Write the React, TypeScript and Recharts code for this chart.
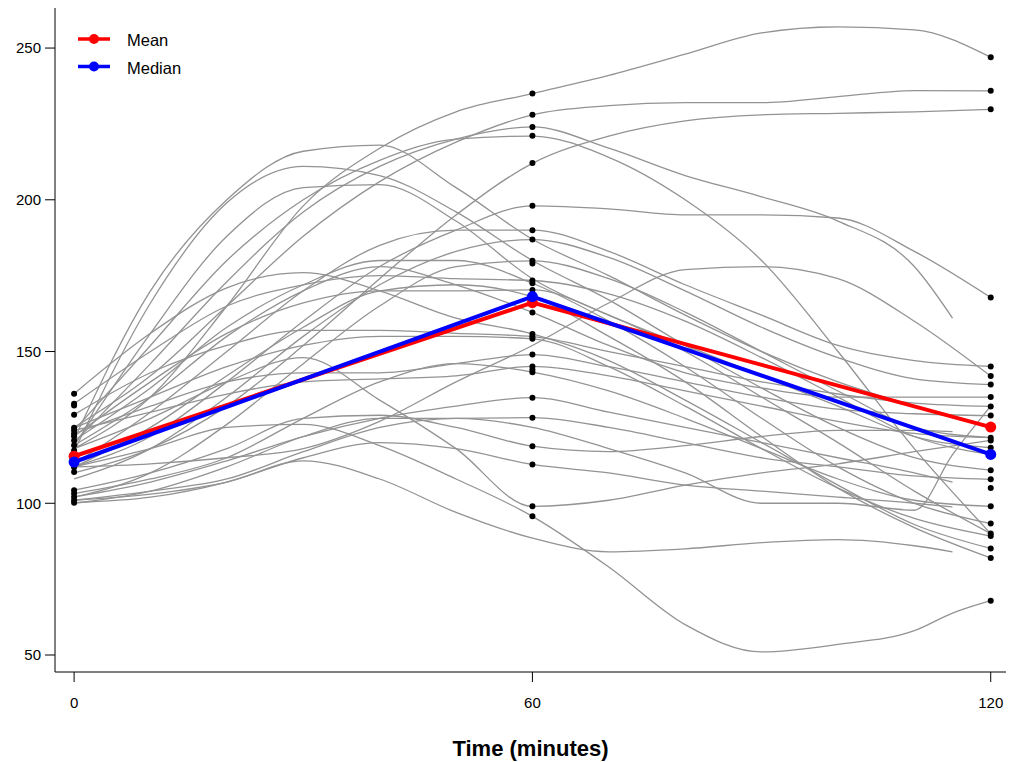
import React from 'react';
import {
  ComposedChart,
  Line,
  Scatter,
  XAxis,
  YAxis,
  Legend,
} from 'recharts';

// sampling times (minutes) of the smoothed individual curves
const times = [0, 10, 20, 30, 40, 50, 60, 70, 80, 90, 100, 110, 115, 120];
const N = null;

// one row per subject, values at the times above (null = not drawn there)
const subjects: (number | null)[][] = [
  [118, 135, 165, 198, 217, 229, 235, 241, 248, 255, 257, 256, N, 247],
  [125, 142, 165, 188, 206, 219, 228, 231, 232, 232, 234, 236, N, 235.9],
  [110, 118, 132, 152, 174, 195, 212, 221, 226, 228, 228.5, 229, N, 229.8],
  [120, 146, 173, 196, 211, 220, 224, 217, 208, 201, 193, 178, 161, N],
  [124, 152, 180, 200, 213, 220, 221, 214, 200, 180, 150, 118, N, 90],
  [112, 122, 140, 160, 178, 190, 198, 197, 195, 195, 194, 183, N, 167.8],
  [121, 170, 200, 216, 218, 204, 187, 175, 162, 150, 140, 132, N, 125],
  [117, 166, 199, 211, 208, 196, 180, 167, 152, 138, 125, 115, N, 110.9],
  [119, 156, 188, 204, 205, 193, 174, 162, 152, 142, 132, 122, N, 118.3],
  [113, 130, 150, 170, 185, 190, 190, 183, 172, 162, 152, 147, N, 145.1],
  [108, 118, 135, 155, 172, 183, 186.9, 181, 170, 158, 148, 141, N, 139.1],
  [102, 110, 126, 146, 165, 178, 179.9, 174, 163, 150, 137, 125, N, 121.6],
  [132.8, 150, 165, 172, 175, 174, 173.4, 169, 160, 148, 135, 122, N, 116],
  [136.1, 156, 171, 176, 170, 161, 155.8, 147, 134, 120, 106, 93, N, 85.1],
  [129.2, 143, 152, 157, 157, 156, 154.9, 150, 145, 140, 136, 133, N, 131.9],
  [124.9, 135, 145, 152, 155, 155, 154.2, 145, 132, 118, 105, 95, N, 89.2],
  [122.9, 132, 140, 143, 143, 146, 149, 145, 140, 135, 131, 129.5, N, 128.9],
  [124, 130, 136, 140, 141, 142, 145.1, 142, 137, 132, 127, 123, N, 121.6],
  [103.2, 108, 115, 128, 140, 146, 143.2, 137, 128, 118, 108, 101, N, 99],
  [102.1, 107, 114, 122, 128, 132, 134.8, 130, 125, 120, 115, 110, 107, N],
  [101, 104, 108, 117, 125, 128, 128.2, 125, 120, 115, 112, 109, N, 107.9],
  [104.3, 110, 118, 128, 129, 125, 118.8, 117, 119, 122, 124, 124, 123.6, N],
  [100.2, 102, 107, 115, 120, 118, 112.8, 110, 106, 104, 102, 100, 98.8, N],
  [122.1, 140, 156, 166, 170, 170, 170.3, 162, 150, 135, 120, 104, N, 90],
  [120.7, 138, 158, 172, 180, 180, 172.5, 160, 145, 128, 112, 100, N, 93.3],
  [119.1, 135, 155, 170, 178, 172, 162.9, 152, 143, 138, 135, 135, N, 135],
  [112, 118, 125, 126, 119, 108, 95.7, 79, 60, 51, 53.5, 58, 63.8, 67.9],
  [101, 103, 107, 114, 108, 97, 88.5, 84, 85, 87, 88, 86, 84, N],
  [111.9, 125, 142, 158, 170, 172, 168, 155, 140, 122, 105, 92, N, 82],
  [100, 104, 112, 122, 128, 128, 125, 118, 110, 100, 100, 97.7, 116, 132],
  [112, 113, 115, 118, 127, 140, 152, 166, 177, 178, 174, 160, N, 141.9],
  [118, 128, 140, 148, 134, 118, 99, 101, 106, 110, 113, 117, N, 120.7],
];

// measured values shown as black points
const dotsAt0 = [136.1, 132.8, 132.2, 129.2, 124.9, 124.0, 122.9, 122.1, 120.7, 119.1, 117.4, 115.5, 113.6, 111.9, 110.3, 104.3, 103.2, 102.1, 101.0, 100.2];
const dotsAt60 = [235.0, 228.0, 224.0, 221.1, 212.1, 198.0, 190.0, 186.9, 179.9, 179.0, 173.4, 172.5, 170.3, 168.0, 162.9, 155.8, 154.9, 154.2, 149.0, 145.1, 144.0, 143.2, 134.8, 128.2, 118.8, 112.8, 99.0, 95.7];
const dotsAt120 = [247.0, 235.9, 229.8, 167.8, 145.1, 141.9, 139.1, 135.0, 131.9, 128.9, 125.0, 121.6, 120.7, 118.3, 116.0, 110.9, 107.9, 105.0, 99.0, 93.3, 90.0, 89.2, 85.1, 82.0, 67.9];

const summaryTimes = [0, 60, 120];
const meanValues = [115.5, 166.1, 125.1];
const medianValues = [113.6, 168.1, 116.1];

const yTicks = [50, 100, 150, 200, 250];
const xTicks = [0, 60, 120];

const rows = times.map((t, i) => {
  const row: Record<string, number | null> = { t };
  subjects.forEach((s, j) => {
    row[`s${j}`] = s[i];
  });
  const k = summaryTimes.indexOf(t);
  row.mean = k >= 0 ? meanValues[k] : null;
  row.median = k >= 0 ? medianValues[k] : null;
  return row;
});

const dots = [
  ...dotsAt0.map((v) => ({ t: 0, v })),
  ...dotsAt60.map((v) => ({ t: 60, v })),
  ...dotsAt120.map((v) => ({ t: 120, v })),
];

const FONT = '"Liberation Sans", Arial, Helvetica, sans-serif';

function LegendBox() {
  return (
    <svg width={140} height={60} style={{ fontFamily: FONT }}>
      <line x1={8} y1={14} x2={40} y2={14} stroke="#ff0000" strokeWidth={3.5} />
      <circle cx={24} cy={14} r={5} fill="#ff0000" />
      <text x={57} y={21} fontSize={16.5} fill="#000">Mean</text>
      <line x1={8} y1={41.5} x2={40} y2={41.5} stroke="#0000ff" strokeWidth={3.5} />
      <circle cx={24} cy={41.5} r={5} fill="#0000ff" />
      <text x={57} y={48.5} fontSize={16.5} fill="#000">Median</text>
    </svg>
  );
}

export default function App() {
  return (
    <div style={{ position: 'absolute', left: 0, top: 0, fontFamily: FONT, background: '#fff' }}>
      <ComposedChart
        width={1011}
        height={762}
        data={rows}
        margin={{ top: 8, right: 5, left: 0, bottom: 0 }}
      >
        <XAxis
          dataKey="t"
          type="number"
          domain={[-2.5, 122]}
          ticks={xTicks}
          allowDataOverflow
          height={90}
          tickSize={10}
          tickMargin={15}
          axisLine={{ stroke: '#000' }}
          tickLine={{ stroke: '#000' }}
          tick={{ fontSize: 15, fill: '#000' }}
          label={{
            value: 'Time (minutes)',
            position: 'insideBottom',
            offset: 6,
            style: { fontSize: 22, fontWeight: 'bold', fill: '#000' },
          }}
        />
        <YAxis
          type="number"
          domain={[44.4, 263.2]}
          ticks={yTicks}
          allowDataOverflow
          width={55}
          tickSize={10}
          tickMargin={4}
          axisLine={{ stroke: '#000' }}
          tickLine={{ stroke: '#000' }}
          tick={{ fontSize: 15, fill: '#000' }}
        />
        <Legend
          layout="horizontal"
          verticalAlign="middle"
          wrapperStyle={{ left: 70, top: 25, width: 140, height: 60 }}
          content={() => <LegendBox />}
        />
        {subjects.map((_, j) => (
          <Line
            key={j}
            type="monotone"
            dataKey={`s${j}`}
            stroke="#939393"
            strokeWidth={1.3}
            dot={false}
            activeDot={false}
            connectNulls
            isAnimationActive={false}
            legendType="none"
          />
        ))}
        <Scatter
          data={dots}
          dataKey="v"
          fill="#000"
          isAnimationActive={false}
          legendType="none"
          shape={(p: any) => <circle cx={p.cx} cy={p.cy} r={3} fill="#000" />}
        />
        <Line
          type="linear"
          dataKey="mean"
          stroke="#ff0000"
          strokeWidth={4}
          dot={{ r: 5.5, fill: '#ff0000', stroke: '#ff0000', strokeWidth: 0 }}
          activeDot={false}
          connectNulls
          isAnimationActive={false}
        />
        <Line
          type="linear"
          dataKey="median"
          stroke="#0000ff"
          strokeWidth={4}
          dot={{ r: 5.5, fill: '#0000ff', stroke: '#0000ff', strokeWidth: 0 }}
          activeDot={false}
          connectNulls
          isAnimationActive={false}
        />
      </ComposedChart>
    </div>
  );
}
